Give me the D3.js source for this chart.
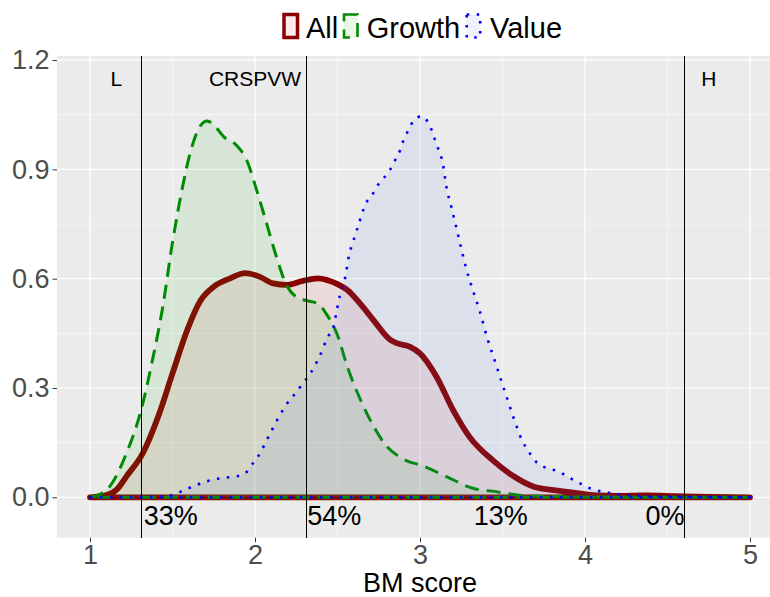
<!DOCTYPE html>
<html>
<head>
<meta charset="utf-8">
<script src="https://cdn.jsdelivr.net/npm/d3@7"></script>
<style>
body { margin: 0; background: #fff; }
text { font-family: "Liberation Sans", Arial, sans-serif; }
</style>
</head>
<body>
<div id="chart"></div>
<script>
// density curves (BM score vs density)
var allX = [1.00,1.10,1.17,1.22,1.32,1.42,1.50,1.59,1.67,1.75,1.85,1.94,2.03,2.11,2.19,2.29,2.38,2.50,2.56,2.64,2.72,2.82,2.86,2.94,3.00,3.10,3.20,3.30,3.44,3.57,3.69,3.81,3.93,4.07,4.20,4.37,4.55,4.75,5.00];
var allY = [0,0.006,0.025,0.057,0.121,0.23,0.34,0.46,0.54,0.578,0.601,0.615,0.605,0.587,0.583,0.594,0.601,0.585,0.569,0.53,0.485,0.432,0.423,0.413,0.395,0.331,0.24,0.166,0.102,0.057,0.029,0.02,0.013,0.005,0.004,0.005,0.003,0.001,0];

var growthX = [1.00,1.06,1.12,1.22,1.31,1.38,1.44,1.50,1.56,1.61,1.67,1.71,1.75,1.81,1.89,1.95,2.01,2.07,2.13,2.19,2.25,2.31,2.38,2.43,2.50,2.56,2.64,2.72,2.80,2.86,2.92,3.00,3.16,3.32,3.44,3.60,3.80,4.00,4.50,5.00];
var growthY = [0,0.008,0.03,0.12,0.24,0.38,0.52,0.70,0.85,0.95,1.02,1.033,1.022,0.99,0.965,0.925,0.843,0.752,0.66,0.583,0.55,0.54,0.532,0.505,0.445,0.358,0.267,0.194,0.139,0.116,0.100,0.089,0.057,0.025,0.017,0.006,0.002,0.001,0,0];

var valueX = [1.00,1.40,1.50,1.57,1.63,1.70,1.76,1.82,1.88,1.94,1.98,2.02,2.08,2.14,2.21,2.25,2.29,2.33,2.39,2.44,2.475,2.50,2.515,2.54,2.55,2.57,2.59,2.63,2.67,2.71,2.74,2.78,2.82,2.85,2.88,2.90,2.93,2.96,3.01,3.055,3.10,3.14,3.16,3.19,3.22,3.25,3.28,3.32,3.36,3.41,3.455,3.495,3.535,3.576,3.62,3.656,3.69,3.74,3.80,3.86,3.92,3.98,4.03,4.09,4.15,4.21,4.35,4.55,4.80,5.00];
var valueY = [0,0.002,0.006,0.02,0.031,0.043,0.05,0.054,0.057,0.066,0.089,0.113,0.165,0.217,0.267,0.288,0.313,0.336,0.386,0.439,0.468,0.523,0.555,0.59,0.612,0.665,0.695,0.752,0.805,0.83,0.854,0.876,0.90,0.926,0.953,0.98,1.008,1.033,1.046,1.024,0.969,0.912,0.852,0.797,0.741,0.683,0.628,0.569,0.514,0.434,0.372,0.317,0.262,0.207,0.155,0.128,0.104,0.086,0.077,0.066,0.05,0.036,0.025,0.017,0.012,0.008,0.004,0.002,0.001,0];

var groups = ["All", "Growth", "Value"];
var xTicks = [1, 2, 3, 4, 5];
var yTicks = [0, 0.3, 0.6, 0.9, 1.2];

// cut-off lines and their labels
var cutX = [1.31, 2.31, 4.6];
var topLabels = ["L", "CRSPVW", "H"];
var topLabelX = [1.16, 2.0, 4.75];
var pctLabels = ["33%", "54%", "13%", "0%"];
var pctLabelX = [1.32, 2.31, 3.32, 4.36];

var lineCol = {"All": "#8B0000", "Growth": "#008B00", "Value": "#0000FF"};
var fillCol = {"All": "#e04040", "Growth": "#20b020", "Value": "#4d7de0"};
var dash = {"All": null, "Growth": "14,8", "Value": "2.5,7.5"};
var lw = {"All": 5.8, "Growth": 3, "Value": 2.6};

var svgWidth = 770, svgHeight = 597;
var margin = {top: 56, left: 57};
var width = 726, height = 481.7;

var svg = d3.select("#chart").append("svg")
	.attr("width", svgWidth)
	.attr("height", svgHeight);

var xScale = d3.scaleLinear().domain([0.8, 5.2]).range([0, width]);
var yScale = d3.scaleLinear().domain([-0.1108, 1.2111]).range([height, 0]);

var chartGroup = svg.append("g")
	.attr("transform", `translate(${margin.left}, ${margin.top})`);

chartGroup.append("rect")
	.attr("width", width).attr("height", height)
	.attr("fill", "#EBEBEB");

// minor grid
var xMinor = [1.5, 2.5, 3.5, 4.5];
var yMinor = [0.15, 0.45, 0.75, 1.05];
chartGroup.selectAll(".xminor").data(xMinor).enter().append("line")
	.attr("x1", d => xScale(d)).attr("x2", d => xScale(d))
	.attr("y1", 0).attr("y2", height)
	.attr("stroke", "#fff").attr("stroke-width", 0.6);
chartGroup.selectAll(".yminor").data(yMinor).enter().append("line")
	.attr("y1", d => yScale(d)).attr("y2", d => yScale(d))
	.attr("x1", 0).attr("x2", width)
	.attr("stroke", "#fff").attr("stroke-width", 0.6);
// major grid
chartGroup.selectAll(".xmajor").data(xTicks).enter().append("line")
	.attr("x1", d => xScale(d)).attr("x2", d => xScale(d))
	.attr("y1", 0).attr("y2", height)
	.attr("stroke", "#fff").attr("stroke-width", 1.2);
chartGroup.selectAll(".ymajor").data(yTicks).enter().append("line")
	.attr("y1", d => yScale(d)).attr("y2", d => yScale(d))
	.attr("x1", 0).attr("x2", width)
	.attr("stroke", "#fff").attr("stroke-width", 1.2);

var series = {
	"All": allX.map((x, i) => [x, allY[i]]),
	"Growth": growthX.map((x, i) => [x, growthY[i]]),
	"Value": valueX.map((x, i) => [x, valueY[i]])
};

var area = d3.area()
	.x(d => xScale(d[0]))
	.y0(yScale(0))
	.y1(d => yScale(d[1]))
	.curve(d3.curveMonotoneX);

groups.forEach(g => {
	chartGroup.append("path")
		.datum(series[g])
		.attr("d", area)
		.attr("fill", fillCol[g])
		.attr("fill-opacity", 0.1)
		.attr("stroke", lineCol[g])
		.attr("stroke-width", lw[g])
		.attr("stroke-dasharray", dash[g])
		.attr("stroke-linejoin", "round");
});

chartGroup.selectAll(".cut").data(cutX).enter().append("line")
	.attr("x1", d => Math.round(xScale(d)) + 0.5).attr("x2", d => Math.round(xScale(d)) + 0.5)
	.attr("y1", 0).attr("y2", height)
	.attr("stroke", "#000").attr("stroke-width", 1)
	.attr("shape-rendering", "crispEdges");

chartGroup.selectAll(".toplab").data(topLabels).enter().append("text")
	.attr("x", (d, i) => xScale(topLabelX[i]))
	.attr("y", yScale(1.15))
	.attr("dy", "0.36em")
	.attr("text-anchor", "middle")
	.style("font-size", "21px")
	.text(d => d);

chartGroup.selectAll(".pctlab").data(pctLabels).enter().append("text")
	.attr("x", (d, i) => xScale(pctLabelX[i]) + 1)
	.attr("y", yScale(-0.05))
	.attr("dy", "0.36em")
	.attr("text-anchor", "start")
	.style("font-size", "27px")
	.text(d => d);

// axes
var xAxis = d3.axisBottom(xScale).tickValues(xTicks).tickFormat(d3.format("d")).tickSize(4.5).tickPadding(3);
var yAxis = d3.axisLeft(yScale).tickValues(yTicks).tickFormat(d3.format(".1f")).tickSize(4.5).tickPadding(3);

var gx = chartGroup.append("g")
	.attr("transform", "translate(0, " + height + ")")
	.call(xAxis);
var gy = chartGroup.append("g").call(yAxis);
[gx, gy].forEach(g => {
	g.select(".domain").remove();
	g.selectAll(".tick line").attr("stroke", "#333");
	g.selectAll(".tick text").attr("fill", "#4D4D4D")
		.style("font-size", "27px")
		.style("font-family", "'Liberation Sans', Arial, sans-serif");
});

svg.append("text")
	.attr("x", margin.left + width / 2)
	.attr("y", 591.5)
	.attr("text-anchor", "middle")
	.style("font-size", "27px")
	.text("BM score");

// legend
var legX = [284, 344, 466.7];
var legTextX = [306, 366.7, 490];
var legend = svg.append("g");
groups.forEach((g, i) => {
	legend.append("rect")
		.attr("x", legX[i]).attr("y", 14.5)
		.attr("width", 13.5).attr("height", 23)
		.attr("fill", fillCol[g]).attr("fill-opacity", 0.1)
		.attr("stroke", lineCol[g])
		.attr("stroke-width", g == "All" ? 3.5 : 2.6)
		.attr("stroke-dasharray", dash[g]);
	legend.append("text")
		.attr("x", legTextX[i]).attr("y", 38)
		.style("font-size", "29px")
		.text(g);
});
</script>
</body>
</html>
